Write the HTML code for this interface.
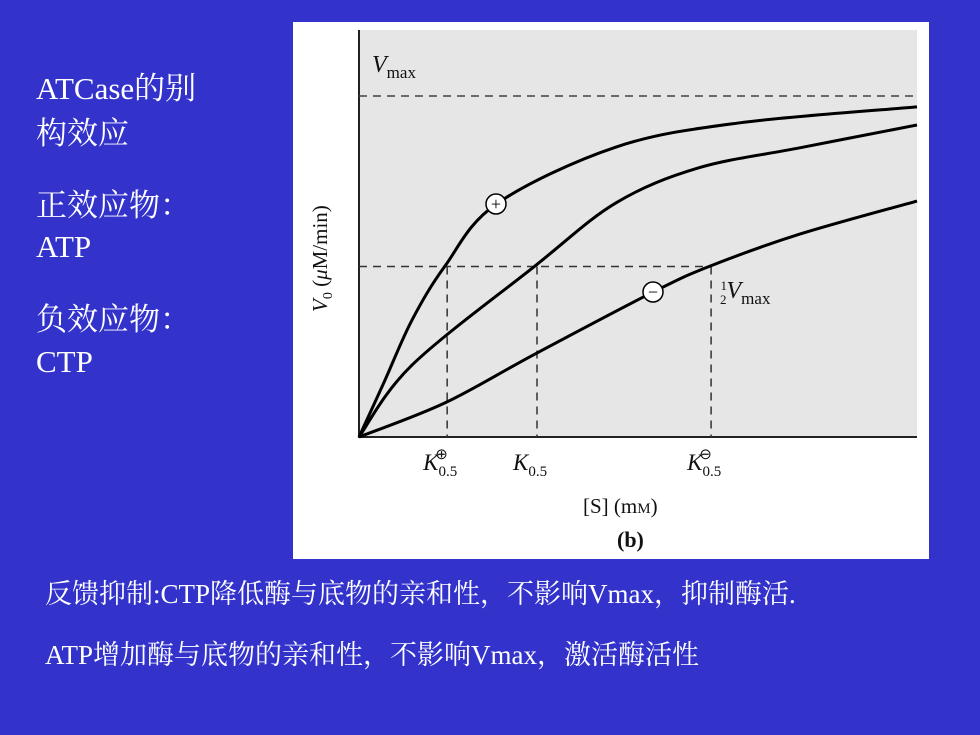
<!DOCTYPE html>
<html><head><meta charset="utf-8"><style>
body{margin:0;width:980px;height:735px;background:#3333cc;position:relative;overflow:hidden;font-family:"Liberation Serif","Noto Serif CJK SC",serif;color:#fff}
.t{position:absolute;font-size:31px;line-height:34px;white-space:nowrap}
.b{position:absolute;font-size:27px;white-space:nowrap;left:45px}
</style></head><body>
<div class="t" style="left:36px;top:72px">ATCase的别</div>
<div class="t" style="left:36px;top:117px">构效应</div>
<div class="t" style="left:36px;top:189px">正效应物：</div>
<div class="t" style="left:36px;top:230px">ATP</div>
<div class="t" style="left:36px;top:303px">负效应物：</div>
<div class="t" style="left:36px;top:345px">CTP</div>
<div class="b" style="top:572px">反馈抑制:CTP降低酶与底物的亲和性，不影响Vmax，抑制酶活.</div>
<div class="b" style="top:633px">ATP增加酶与底物的亲和性，不影响Vmax，激活酶活性</div>
<svg id="chart" width="980" height="735" style="position:absolute;left:0;top:0" font-family="Liberation Serif, serif"></svg>
<script>
const xPlus=[0,0.45,0.95,1.54,2.46,4.6,6.81,10];
const vPlus=[0,0.161,0.343,0.501,0.683,0.850,0.921,0.968];
const xMid=[0,0.95,3.15,4.6,6.08,7.9,10];
const vMid=[0,0.211,0.501,0.686,0.789,0.848,0.915];
const xMinus=[0,1.54,3.15,5.27,6.29,7.9,10];
const vMinus=[0,0.100,0.243,0.425,0.501,0.595,0.692];
const kValues=[1.58,3.19,6.31];
const vmax=1;
const L=359,R=917,T=30,B=437,VT=96;
const sx=x=>L+x*(R-L)/10, sy=v=>B-v*(B-VT);
const ns="http://www.w3.org/2000/svg", svg=document.getElementById('chart');
function mk(tag,attrs,parent){const e=document.createElementNS(ns,tag);for(const k in attrs)e.setAttribute(k,attrs[k]);(parent||svg).appendChild(e);return e;}
let e=mk('rect',{x:293,y:22,width:636,height:537,fill:'#fff'});

e=mk('rect',{x:L,y:T,width:R-L,height:B-T,fill:'#e6e6e6'});

e=mk('path',{d:`M${L},${T}V${B}H${R}`,stroke:'#222',fill:'none','stroke-width':2});

e=mk('line',{x1:L,x2:R,y1:sy(vmax),y2:sy(vmax),stroke:'#444','stroke-width':1.5,'stroke-dasharray':'8,6'});

e=mk('line',{x1:L,x2:sx(kValues[2]),y1:sy(vmax/2),y2:sy(vmax/2),stroke:'#333','stroke-width':1.5,'stroke-dasharray':'8,6'});

kValues.forEach(k=>{const d=mk('line',{x1:sx(k),x2:sx(k),y1:sy(vmax/2),y2:B,stroke:'#333','stroke-width':1.5,'stroke-dasharray':'8,6'});
});
function curve(xs,vs,name){const p=xs.map((x,i)=>[sx(x),sy(vs[i])]);let d=`M${p[0][0]},${p[0][1]}`;
for(let i=0;i<p.length-1;i++){const p0=p[Math.max(i-1,0)],p1=p[i],p2=p[i+1],p3=p[Math.min(i+2,p.length-1)];
d+=`C${p1[0]+(p2[0]-p0[0])/6},${p1[1]+(p2[1]-p0[1])/6} ${p2[0]-(p3[0]-p1[0])/6},${p2[1]-(p3[1]-p1[1])/6} ${p2[0]},${p2[1]}`;}
const c=mk('path',{d:d,stroke:'#000',fill:'none','stroke-width':3});
}
curve(xPlus,vPlus,'curve-atp');curve(xMid,vMid,'curve-no-effector');curve(xMinus,vMinus,'curve-ctp');
[[496,204,'+','plus-marker'],[653,292,'−','minus-marker']].forEach(m=>{const g=mk('g',{});

mk('circle',{cx:m[0],cy:m[1],r:10,fill:'#fff',stroke:'#000','stroke-width':1.5},g);
const t=mk('text',{x:m[0],y:m[1]+6,'text-anchor':'middle','font-size':18},g);t.textContent=m[2];});
function txt(x,y,html,name,size,extra){const t=mk('text',Object.assign({x:x,y:y,'font-size':size||20,fill:'#111'},extra||{}));t.innerHTML=html;
return t;}
txt(372,72,'<tspan font-style="italic" font-size="24">V</tspan><tspan font-size="17" dy="6">max</tspan>','vmax-label');
txt(720,298,'<tspan font-size="13" dy="-8">1</tspan><tspan font-size="13" dx="-7" dy="14">2</tspan><tspan font-style="italic" font-size="24" dy="-6">V</tspan><tspan font-size="17" dy="6">max</tspan>','half-vmax-label');
const kNames=['k-plus-label','k-label','k-minus-label'],kSup=['⊕','','⊖'];
kValues.forEach((k,i)=>txt(sx(k)-24,470,`<tspan font-style="italic" font-size="23">K</tspan><tspan font-size="15" dy="6">0.5</tspan>`+(kSup[i]?`<tspan font-size="15" dx="-22" dy="-17">${kSup[i]}</tspan>`:''),kNames[i]));
txt(583,513,'[S] (m<tspan font-size="15">M</tspan>)','x-axis-title',21);
txt(617,547,'(b)','panel-label',22,{'font-weight':'bold'});
txt(0,0,'<tspan font-style="italic">V</tspan><tspan font-size="14" dy="5">0</tspan><tspan dy="-5"> (</tspan><tspan font-style="italic">μ</tspan>M/min)','y-axis-title',21,{transform:'translate(327,312) rotate(-90)'});
</script>
</body></html>
